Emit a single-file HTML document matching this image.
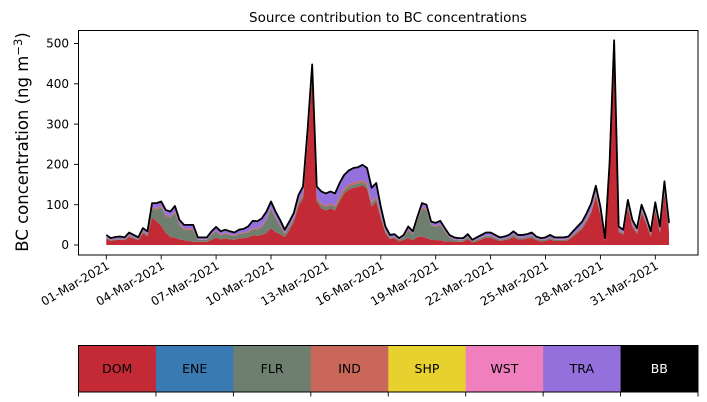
<!DOCTYPE html>
<html><head><meta charset="utf-8"><style>
html,body{margin:0;padding:0;background:#fff;}
svg{display:block;font-family:"DejaVu Sans","Liberation Sans",sans-serif;}
</style></head><body>
<svg id="chart" width="707" height="402" viewBox="0 0 707 402">
<text x="388" y="22" text-anchor="middle" font-size="13.5" fill="#000">Source contribution to BC concentrations</text>
<text transform="translate(28,142) rotate(-90)" text-anchor="middle" font-size="16.5" fill="#000">BC concentration (ng m<tspan dy="-6" font-size="11.5">−3</tspan><tspan dy="6">)</tspan></text>
<g id="areas"></g>
<g id="yticks"></g>
<g id="xticks"></g>
<rect x="78.5" y="30.5" width="619.5" height="224.5" fill="none" stroke="#000" stroke-width="1"/>
<g id="legend"></g>
</svg>
<script>
const total=[25,17,20,21,19,31,25,19,42,34,104,104,108,87,83,97,62,50,50,50,19,19,19,34,45,34,38,34,31,38,40,46,60,59,66,83,108,83,62,38,58,80,124,145,286,448,145,133,128,133,128,154,174,185,191,193,199,191,142,154,95,46,25,27,17,25,46,34,70,104,100,58,55,60,42,25,19,17,17,27,13,19,25,31,31,25,19,21,25,34,25,25,27,31,21,17,19,25,19,19,19,21,34,46,58,79,104,147,95,17,203,508,46,38,112,62,42,100,70,34,106,46,158,55];
const flr=[3,2,2,2,2,3,3,2,4,4,20,30,45,42,48,62,35,26,28,29,5,5,5,12,16,10,12,10,9,11,12,12,15,15,20,32,48,35,20,8,8,8,8,8,8,8,8,8,8,8,8,8,8,8,8,8,8,8,8,8,6,5,3,3,3,6,20,14,40,70,70,35,33,38,24,10,5,4,4,5,3,4,4,5,5,4,3,3,4,5,4,4,4,5,3,3,3,4,3,3,3,3,4,5,5,6,6,6,5,2,6,8,4,4,6,5,4,6,5,4,6,5,8,10];
const tra=[5,4,5,5,4,6,5,4,7,6,12,12,12,12,12,14,10,9,9,10,5,5,5,7,9,8,8,8,7,9,9,12,18,18,18,18,15,13,12,8,10,12,15,18,20,25,25,30,30,30,30,32,33,35,36,36,38,38,35,33,20,10,6,6,4,5,7,6,8,10,10,8,8,8,7,5,5,4,4,6,3,5,6,7,7,6,5,5,6,7,6,6,6,7,5,4,5,6,5,5,5,5,7,9,11,13,15,16,13,4,12,15,8,7,12,10,8,12,10,7,12,9,18,12];
const ind=[1,1,1,1,1,2,1,1,2,2,3,3,3,3,3,3,3,3,3,3,1,1,1,2,2,2,2,2,2,2,2,3,3,3,3,3,3,3,3,2,3,3,4,4,5,6,4,4,4,4,4,5,5,5,5,5,5,5,4,4,3,2,1,1,1,1,2,2,2,3,3,2,2,2,2,1,1,1,1,1,1,1,1,1,1,1,1,1,1,2,1,1,1,1,1,1,1,1,1,1,1,1,2,2,2,3,3,4,3,1,4,6,2,2,3,2,2,3,2,2,3,2,4,2];
const dom=[16,10,12,13,12,20,16,12,29,22,69,59,48,30,20,18,14,12,10,8,8,8,8,13,18,14,16,14,13,16,17,19,24,23,25,30,42,32,27,20,37,57,97,115,253,409,108,91,86,91,86,109,128,137,142,144,148,140,95,109,66,29,15,17,9,13,17,12,20,21,17,13,12,12,9,9,8,8,8,15,6,9,14,18,18,14,10,12,14,20,14,14,16,18,12,9,10,14,10,10,10,12,21,30,40,57,80,121,74,10,181,479,32,25,91,45,28,79,53,21,85,30,128,31];
const stepDays=0.25;
const yTicks=[0,100,200,300,400,500];
const xTickDays=[0,3,6,9,12,15,18,21,24,27,30];
const xTickLabels=["01-Mar-2021","04-Mar-2021","07-Mar-2021","10-Mar-2021","13-Mar-2021","16-Mar-2021","19-Mar-2021","22-Mar-2021","25-Mar-2021","28-Mar-2021","31-Mar-2021"];
const legendNames=["DOM","ENE","FLR","IND","SHP","WST","TRA","BB"];
const legendColors=["#c42a36","#3a7ab3","#6e7f70","#c8675a","#e6d12f","#f07fbe","#9370db","#000000"];

const NS="http://www.w3.org/2000/svg";
const xScale=d=>106.3+d*18.3;
const yScale=v=>245-v*0.403;
function mk(tag,attrs,parent){const e=document.createElementNS(NS,tag);for(const k in attrs)e.setAttribute(k,attrs[k]);parent.appendChild(e);return e;}

const areas=document.getElementById('areas');
const layers=[[dom,"#c42a36","area-dom"],[flr,"#6e7f70","area-flr"],[ind,"#c8675a","area-ind"],[tra,"#9370db","area-tra"]];
const base=dom.map(()=>0);
layers.forEach(([arr,col,name])=>{
  const top=base.map((b,i)=>b+arr[i]);
  let d="";
  top.forEach((v,i)=>{d+=(i?"L":"M")+xScale(i*stepDays).toFixed(2)+","+yScale(v).toFixed(2);});
  for(let i=base.length-1;i>=0;i--)d+="L"+xScale(i*stepDays).toFixed(2)+","+yScale(base[i]).toFixed(2);
  const p=mk('path',{d:d+"Z",fill:col,stroke:"none"},areas);
  
  
  top.forEach((v,i)=>base[i]=v);
});
let ld="";
total.forEach((v,i)=>{ld+=(i?"L":"M")+xScale(i*stepDays).toFixed(2)+","+yScale(v).toFixed(2);});
const tl=mk('path',{d:ld,fill:"none",stroke:"#000","stroke-width":"1.8","stroke-linejoin":"round"},areas);



const yg=document.getElementById('yticks');
yTicks.forEach(v=>{
  const y=yScale(v);
  mk('line',{x1:74,x2:78.5,y1:y,y2:y,stroke:"#000","stroke-width":"0.9"},yg);
  const t=mk('text',{x:69,y:y+4.2,"text-anchor":"end","font-size":"12",fill:"#000"},yg);
  t.textContent=v;
  
  
});
const xg=document.getElementById('xticks');
xTickDays.forEach((d,i)=>{
  const x=xScale(d);
  mk('line',{x1:x,x2:x,y1:255,y2:259.5,stroke:"#000","stroke-width":"0.9"},xg);
  const t=mk('text',{transform:`translate(${x+4},${268}) rotate(-30)`,"text-anchor":"end","font-size":"12",fill:"#000"},xg);
  t.textContent=xTickLabels[i];
  
  
});

const lg=document.getElementById('legend');
const lx=78.5,lw=619.5/legendNames.length;
legendNames.forEach((n,i)=>{
  const r=mk('rect',{x:lx+i*lw,y:345.5,width:lw+0.3,height:46.5,fill:legendColors[i]},lg);
  
  
  const t=mk('text',{x:lx+i*lw+lw/2,y:373,"text-anchor":"middle","font-size":"12.5",fill:n==="BB"?"#fff":"#000"},lg);
  t.textContent=n;
  
  
});
mk('rect',{x:lx,y:345.5,width:619.5,height:46.5,fill:"none",stroke:"#000","stroke-width":"1"},lg);
for(let i=0;i<=legendNames.length;i++){
  const x=lx+i*lw;
  mk('line',{x1:x,x2:x,y1:392,y2:396.5,stroke:"#000","stroke-width":"0.9"},lg);
}
</script>
</body></html>
